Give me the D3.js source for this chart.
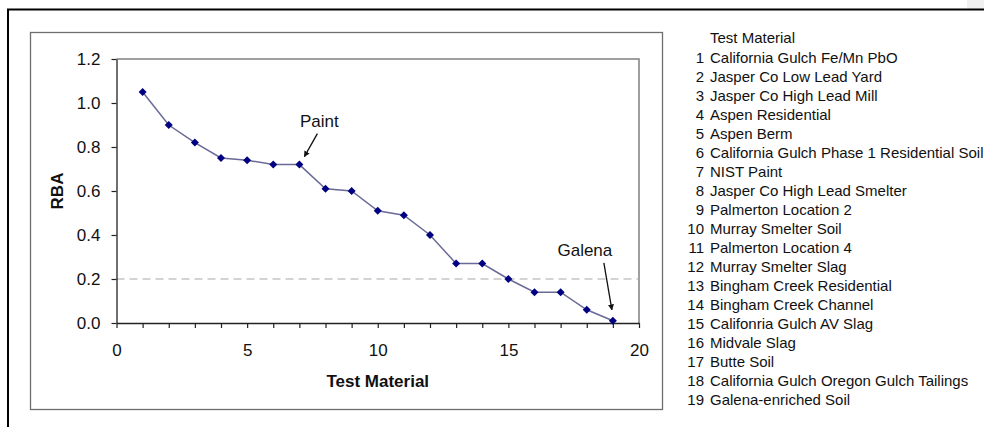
<!DOCTYPE html>
<html>
<head>
<meta charset="utf-8">
<script src="https://cdn.jsdelivr.net/npm/d3@7"></script>
<style>
  html, body { margin: 0; padding: 0; background: #fff; }
  svg { display: block; font-family: "Liberation Sans", Arial, sans-serif; }
</style>
</head>
<body>
<svg id="chart" width="984" height="427"></svg>
<script>
// Test material index, name and relative bioavailability (RBA) of lead
const materialIds = d3.range(1, 20);
const materialNames = [
  "California Gulch Fe/Mn PbO",
  "Jasper Co Low Lead Yard",
  "Jasper Co High Lead Mill",
  "Aspen Residential",
  "Aspen Berm",
  "California Gulch Phase 1 Residential Soil",
  "NIST Paint",
  "Jasper Co High Lead Smelter",
  "Palmerton Location 2",
  "Murray Smelter Soil",
  "Palmerton Location 4",
  "Murray Smelter Slag",
  "Bingham Creek Residential",
  "Bingham Creek Channel",
  "Califonria Gulch AV Slag",
  "Midvale Slag",
  "Butte Soil",
  "California Gulch Oregon Gulch Tailings",
  "Galena-enriched Soil"
];
const rbaValues = [1.05, 0.90, 0.82, 0.75, 0.74, 0.72, 0.72, 0.61, 0.60, 0.51,
                   0.49, 0.40, 0.27, 0.27, 0.20, 0.14, 0.14, 0.06, 0.01];
const yTicks = [0, 0.2, 0.4, 0.6, 0.8, 1.0, 1.2];
const xTicks = d3.range(0, 21);
const referenceLevel = 0.2;
const callouts = [
  { label: "Paint", id: 7 },
  { label: "Galena", id: 19 }
];

const data = materialIds.map((id, i) => ({ id, name: materialNames[i], rba: rbaValues[i] }));

const svg = d3.select("#chart");

// page frame
svg.append("rect").attr("x", 967).attr("y", 0).attr("width", 17).attr("height", 9).attr("fill", "#f0f0f0");
svg.append("line").attr("x1", 7).attr("x2", 984).attr("y1", 9.5).attr("y2", 9.5)
  .attr("stroke", "#000").attr("stroke-width", 2);
svg.append("line").attr("x1", 8).attr("x2", 8).attr("y1", 9).attr("y2", 427)
  .attr("stroke", "#000").attr("stroke-width", 2);

// chart area border
svg.append("rect").attr("x", 30.5).attr("y", 32.5).attr("width", 632).attr("height", 377)
  .attr("fill", "none").attr("stroke", "#6e6e6e").attr("stroke-width", 1.3);

const plot = { left: 116.5, right: 639, top: 59, bottom: 323 };
const x = d3.scaleLinear().domain([0, 20]).range([plot.left, plot.right]);
const y = d3.scaleLinear().domain([0, 1.2]).range([plot.bottom, plot.top]);

// plot area border (top and right)
svg.append("path")
  .attr("d", `M${plot.left},${plot.top}H${plot.right}V${plot.bottom}`)
  .attr("fill", "none").attr("stroke", "#808080").attr("stroke-width", 1.5);

// reference line
svg.append("line")
  .attr("x1", x(0)).attr("x2", x(20))
  .attr("y1", y(referenceLevel)).attr("y2", y(referenceLevel))
  .attr("stroke", "#a8a8a8").attr("stroke-width", 1.2).attr("stroke-dasharray", "8,5");

// axes
const yAxis = svg.append("g").attr("transform", `translate(${plot.left},0)`)
  .call(d3.axisLeft(y).tickValues(yTicks).tickFormat(d3.format(".1f")).tickSize(5).tickPadding(11).tickSizeOuter(0));
const xAxis = svg.append("g").attr("transform", `translate(0,${plot.bottom})`)
  .call(d3.axisBottom(x).tickValues(xTicks).tickFormat(d => d % 5 === 0 ? d : "").tickSize(5).tickPadding(16).tickSizeOuter(0));
[yAxis, xAxis].forEach(g => {
  g.select(".domain").attr("stroke", "#222").attr("stroke-width", 1.3);
  g.selectAll(".tick line").attr("stroke", "#222").attr("stroke-width", 1.2);
  g.selectAll("text").attr("font-size", 17).attr("fill", "#111")
    .attr("font-family", "Liberation Sans, Arial, sans-serif");
});

// axis titles
svg.append("text").attr("x", (plot.left + plot.right) / 2).attr("y", 387)
  .attr("text-anchor", "middle").attr("font-size", 17).attr("font-weight", "bold").attr("fill", "#111")
  .text("Test Material");
svg.append("text").attr("transform", `translate(63,${(plot.top + plot.bottom) / 2}) rotate(-90)`)
  .attr("text-anchor", "middle").attr("font-size", 17).attr("font-weight", "bold").attr("fill", "#111")
  .text("RBA");

// series line and diamond markers
svg.append("path").datum(data)
  .attr("d", d3.line().x(d => x(d.id)).y(d => y(d.rba)))
  .attr("fill", "none").attr("stroke", "#6a6a98").attr("stroke-width", 1.5);
svg.append("g").selectAll("path").data(data).join("path")
  .attr("transform", d => `translate(${x(d.id)},${y(d.rba)}) rotate(45)`)
  .attr("d", d3.symbol(d3.symbolSquare, 32)())
  .attr("fill", "#000080");

// callouts with arrows
const defs = svg.append("defs");
defs.append("marker").attr("id", "arrowhead").attr("viewBox", "0 0 10 10")
  .attr("refX", 9).attr("refY", 5).attr("markerWidth", 6).attr("markerHeight", 6)
  .attr("orient", "auto").attr("markerUnits", "userSpaceOnUse")
  .append("path").attr("d", "M0,0L10,5L0,10Z").attr("fill", "#111");

const calloutOffsets = {
  Paint: { tx: 20, ty: -38, ax1: 18, ay1: -31, ax2: 5, ay2: -8 },
  Galena: { tx: -28, ty: -65, ax1: -9, ay1: -58, ax2: -1, ay2: -11 }
};
callouts.forEach(c => {
  const d = data.find(p => p.id === c.id);
  const px = x(d.id), py = y(d.rba), o = calloutOffsets[c.label];
  svg.append("text").attr("x", px + o.tx).attr("y", py + o.ty)
    .attr("text-anchor", "middle").attr("font-size", 17).attr("fill", "#111").text(c.label);
  svg.append("line").attr("x1", px + o.ax1).attr("y1", py + o.ay1)
    .attr("x2", px + o.ax2).attr("y2", py + o.ay2)
    .attr("stroke", "#111").attr("stroke-width", 1.3).attr("marker-end", "url(#arrowhead)");
});

// material list
const list = svg.append("g").attr("font-size", 15).attr("fill", "#111");
list.append("text").attr("x", 710).attr("y", 43).text("Test Material");
const rows = list.selectAll("g.row").data(data).join("g").attr("class", "row")
  .attr("transform", (d, i) => `translate(0,${63 + i * 19})`);
rows.append("text").attr("x", 704).attr("text-anchor", "end").text(d => d.id);
rows.append("text").attr("x", 710).text(d => d.name);
</script>
</body>
</html>
